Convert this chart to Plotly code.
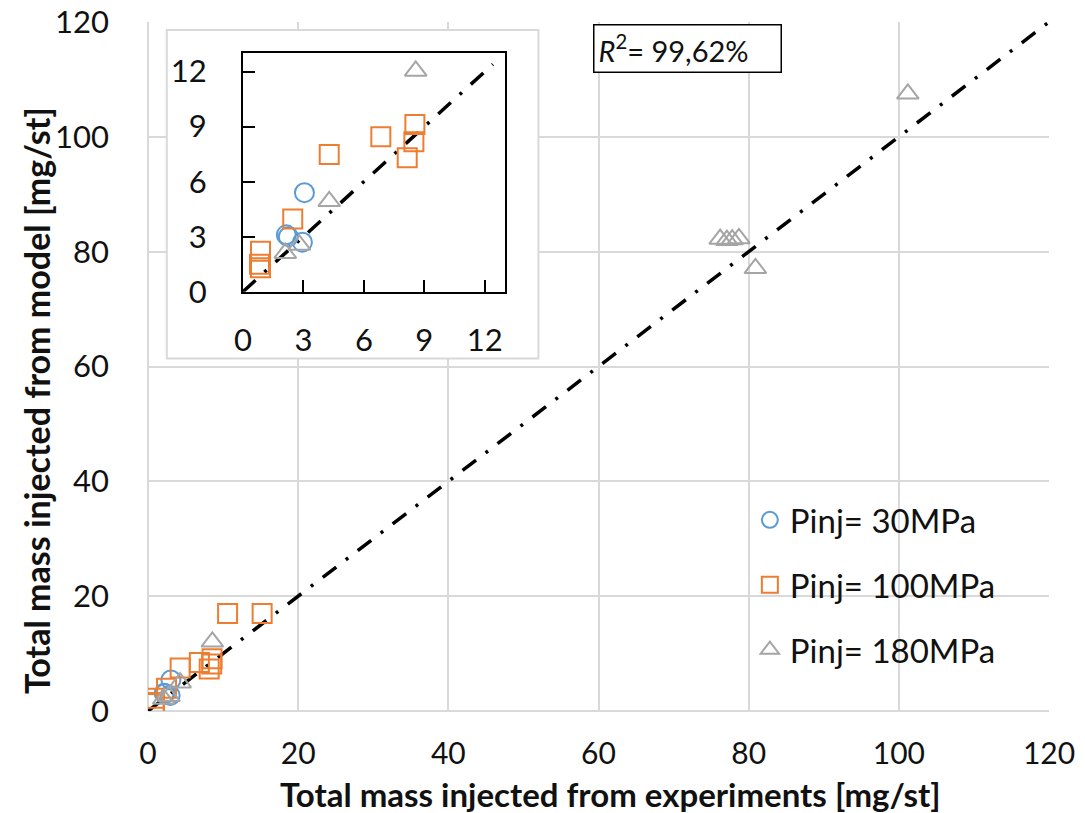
import plotly.graph_objects as go

# Measured injected mass vs. model prediction, one series per injection pressure
p30_exp = [3.05, 2.15, 2.25, 2.95]
p30_model = [5.4, 3.1, 3.0, 2.7]

p100_exp = [0.87, 0.82, 0.87, 2.47, 4.28, 6.84, 8.53, 8.48, 8.15, 10.6, 15.2]
p100_model = [2.2, 1.5, 1.3, 3.96, 7.48, 8.45, 9.12, 8.18, 7.3, 17.0, 17.0]

p180_exp = [2.1, 2.8, 4.28, 8.57, 76.2, 77.1, 77.8, 78.7, 80.9, 101.2]
p180_model = [2.1, 2.55, 4.93, 12.04, 82.2, 82.0, 82.1, 82.3, 77.1, 107.5]

series_names = ["Pinj= 30MPa", "Pinj= 100MPa", "Pinj= 180MPa"]
parity_main = [0, 120]
parity_inset = [0, 12.4]
main_ticks = [0, 20, 40, 60, 80, 100, 120]
inset_ticks = [0, 3, 6, 9, 12]
r2_text = "<i>R</i><sup>2</sup>= 99,62%"

FONT = "Lato"
BLUE, ORANGE, GRAY = "#5B9BD5", "#ED7D31", "#A5A5A5"
DASH = "17px,12px,3px,12px"

series = [
    (p30_exp, p30_model, "circle-open", BLUE, series_names[0]),
    (p100_exp, p100_model, "square-open", ORANGE, series_names[1]),
    (p180_exp, p180_model, "triangle-up-open", GRAY, series_names[2]),
]

fig = go.Figure()

# main panel
fig.add_trace(go.Scatter(x=parity_main, y=parity_main, mode="lines",
                         line=dict(color="black", width=3.5, dash=DASH),
                         showlegend=False, hoverinfo="skip", xaxis="x", yaxis="y"))
for i, (xs, ys, sym, col, name) in enumerate(series):
    fig.add_trace(go.Scatter(x=xs, y=ys, mode="markers", name=name,
                             legendgroup=f"g{i}",
                             marker=dict(symbol=sym, size=19, color=col,
                                         line=dict(color=col, width=2)),
                             xaxis="x", yaxis="y"))

# zoomed inset
fig.add_trace(go.Scatter(x=parity_inset, y=parity_inset, mode="lines",
                         line=dict(color="black", width=3.5, dash=DASH),
                         showlegend=False, hoverinfo="skip", xaxis="x2", yaxis="y2"))
for xs, ys, sym, col, name in series:
    fig.add_trace(go.Scatter(x=xs, y=ys, mode="markers", showlegend=False,
                             marker=dict(symbol=sym, size=19, color=col,
                                         line=dict(color=col, width=2)),
                             xaxis="x2", yaxis="y2"))

grid = "#D9D9D9"
fig.update_layout(
    width=1085, height=813,
    margin=dict(l=148, r=36, t=22, b=102, autoexpand=False),
    paper_bgcolor="white", plot_bgcolor="white",
    font=dict(family=FONT, color="#111111", size=31),
    xaxis=dict(range=[0, 120], tickvals=main_ticks, showgrid=True, gridcolor=grid,
               gridwidth=2, zeroline=True, zerolinecolor=grid, zerolinewidth=2,
               showline=False, ticks="", ticklabelstandoff=22, automargin=False,
               tickfont=dict(size=30), domain=[0, 1]),
    yaxis=dict(range=[0, 120], tickvals=main_ticks, showgrid=True, gridcolor=grid,
               gridwidth=2, zeroline=True, zerolinecolor=grid, zerolinewidth=2,
               showline=False, ticks="", ticklabelstandoff=38, automargin=False,
               tickfont=dict(size=31), domain=[0, 1]),
    xaxis2=dict(range=[0, 13], tickvals=inset_ticks, domain=[0.1054, 0.3962],
                anchor="y2", showgrid=False, zeroline=False, showline=True,
                mirror=True, linecolor="black", linewidth=2, ticks="inside",
                ticklen=12, tickwidth=1.5, tickcolor="black", automargin=False,
                ticklabelstandoff=20, tickfont=dict(size=31)),
    yaxis2=dict(range=[0, 13], tickvals=inset_ticks, domain=[0.6086, 0.9546],
                anchor="x2", showgrid=False, zeroline=False, showline=True,
                mirror=True, linecolor="black", linewidth=2, ticks="inside",
                ticklen=12, tickwidth=1.5, tickcolor="black", automargin=False,
                ticklabelstandoff=28, tickfont=dict(size=31)),
    legend=dict(x=0.668, y=0.318, xanchor="left", yanchor="top",
                bgcolor="rgba(0,0,0,0)", borderwidth=0,
                font=dict(size=33), traceorder="grouped", tracegroupgap=19,
                itemsizing="trace"),
    showlegend=True,
)

# white panel behind the inset, drawn above the main grid but under the markers
fig.add_shape(type="rect", xref="x", yref="y",
              x0=2.5, x1=52.0, y0=61.4, y1=118.6, layer="between",
              fillcolor="white", line=dict(color=grid, width=2))

annotations = [
    dict(text=r2_text, xref="paper", yref="paper", x=0.599, y=0.961,
         xanchor="center", yanchor="middle", showarrow=False,
         font=dict(size=29, family=FONT), bordercolor="black", borderwidth=1.5,
         bgcolor="white", borderpad=4, width=178, height=38, align="left"),
    dict(text="<b>Total mass injected from experiments [mg/st]</b>",
         xref="paper", yref="paper", x=0.513, y=(711 - 794) / 689,
         xanchor="center", yanchor="middle", showarrow=False,
         font=dict(size=33, family=FONT)),
    dict(text="<b>Total mass injected from model [mg/st]</b>",
         xref="paper", yref="paper", x=(36 - 148) / 901, y=(711 - 401) / 689,
         xanchor="center", yanchor="middle", showarrow=False, textangle=-90,
         font=dict(size=34, family=FONT)),
]
fig.update_layout(annotations=annotations)

fig.write_html("out.html")
